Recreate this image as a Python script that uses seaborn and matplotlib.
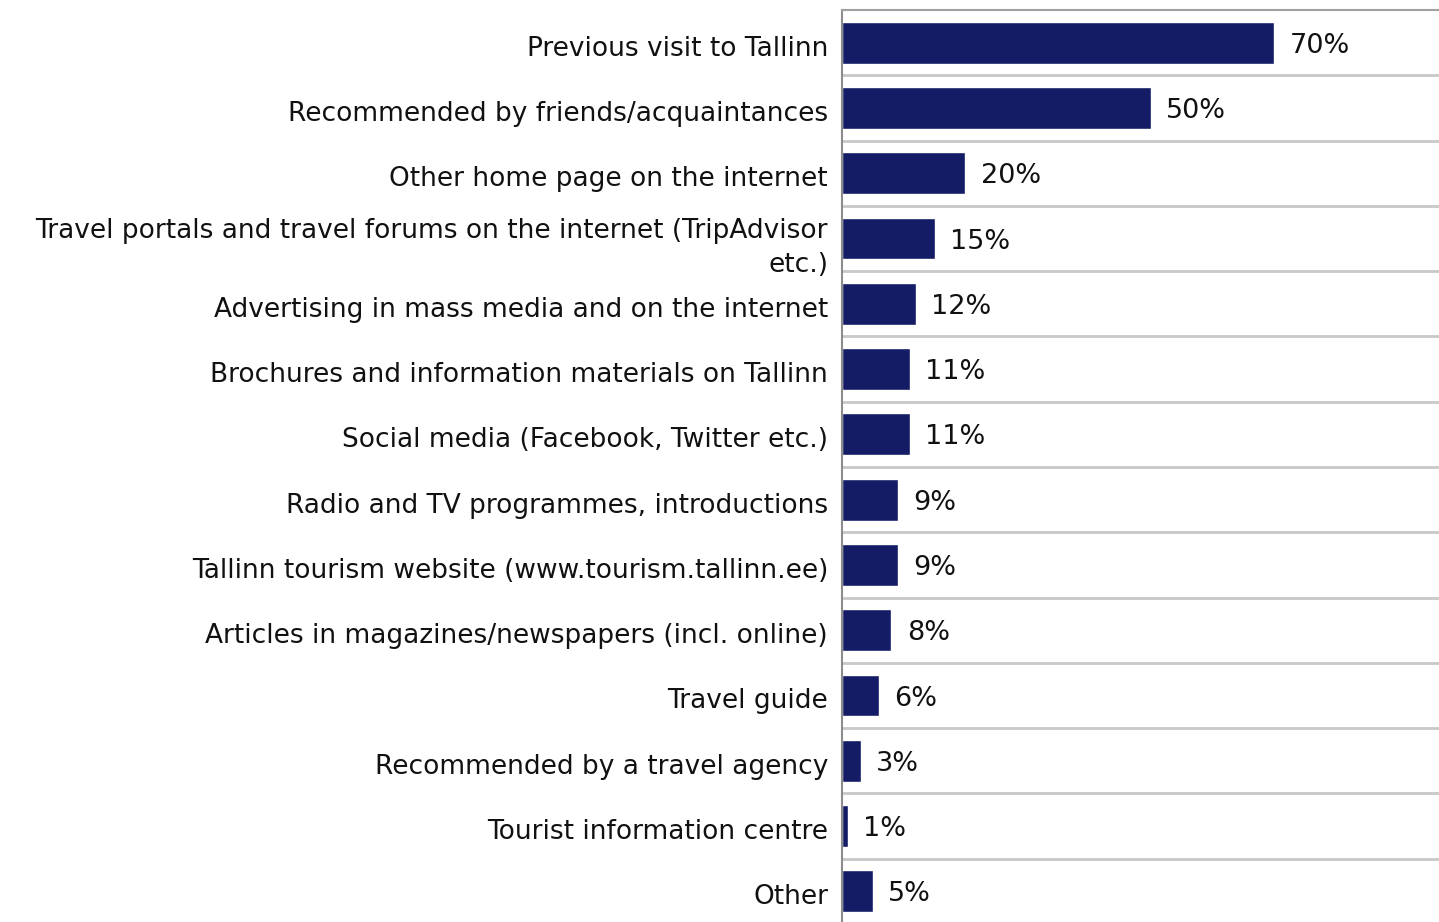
import matplotlib
matplotlib.use("Agg")
import matplotlib.pyplot as plt
import matplotlib.transforms as mtransforms
import seaborn as sns
import pandas as pd
import numpy as np

categories = [
    "Previous visit to Tallinn",
    "Recommended by friends/acquaintances",
    "Other home page on the internet",
    "Travel portals and travel forums on the internet (TripAdvisor\netc.)",
    "Advertising in mass media and on the internet",
    "Brochures and information materials on Tallinn",
    "Social media (Facebook, Twitter etc.)",
    "Radio and TV programmes, introductions",
    "Tallinn tourism website (www.tourism.tallinn.ee)",
    "Articles in magazines/newspapers (incl. online)",
    "Travel guide",
    "Recommended by a travel agency",
    "Tourist information centre",
    "Other",
]
values = [70, 50, 20, 15, 12, 11, 11, 9, 9, 8, 6, 3, 1, 5]

df = pd.DataFrame({"source": categories, "share": values})

sns.set_theme(style="white")
plt.rcParams["font.family"] = ["DejaVu Sans"]

fig = plt.figure(figsize=(14.39, 9.22), dpi=100)
ax = fig.add_axes([842 / 1439, -2 / 922, 1 - 842 / 1439, 914 / 922])

bar_color = "#151C66"
sns.barplot(data=df, x="share", y="source", orient="h", color=bar_color,
            width=0.64, saturation=1, ax=ax)

ax.set_xlim(0, 96.7)
ax.set_ylim(len(categories) - 0.5, -0.5)

# separators between category rows
ax.set_yticks(np.arange(len(categories) - 1) + 0.5, minor=True)
ax.grid(False)
ax.grid(True, which="minor", axis="y", color="#c8c8c8", linewidth=2)
ax.set_axisbelow(True)
ax.tick_params(axis="y", which="minor", length=0)

ax.set_xticks([])
ax.set_xlabel("")
ax.set_ylabel("")
ax.tick_params(axis="y", which="major", length=0, pad=10, labelsize=19,
               labelcolor="#111111")

# nudge text slightly below the bar centre line
shift_down = mtransforms.ScaledTranslation(0, -3 / 100, fig.dpi_scale_trans)
for lbl in ax.get_yticklabels():
    lbl.set_horizontalalignment("right")
    lbl.set_multialignment("right")
    lbl.set_linespacing(1.4)
    lbl.set_transform(lbl.get_transform() + shift_down)

for side in ["right", "bottom"]:
    ax.spines[side].set_visible(False)
ax.spines["left"].set_color("#8c8c8c")
ax.spines["left"].set_linewidth(1.5)
ax.spines["top"].set_color("#a0a0a0")
ax.spines["top"].set_linewidth(1.5)

texts = ax.bar_label(ax.containers[0], labels=[f"{v}%" for v in values],
                     padding=11, fontsize=19.5, color="#111111")
for t in texts:
    t.xyann = (11, -2.2)

fig.savefig("out.png", dpi=100)
